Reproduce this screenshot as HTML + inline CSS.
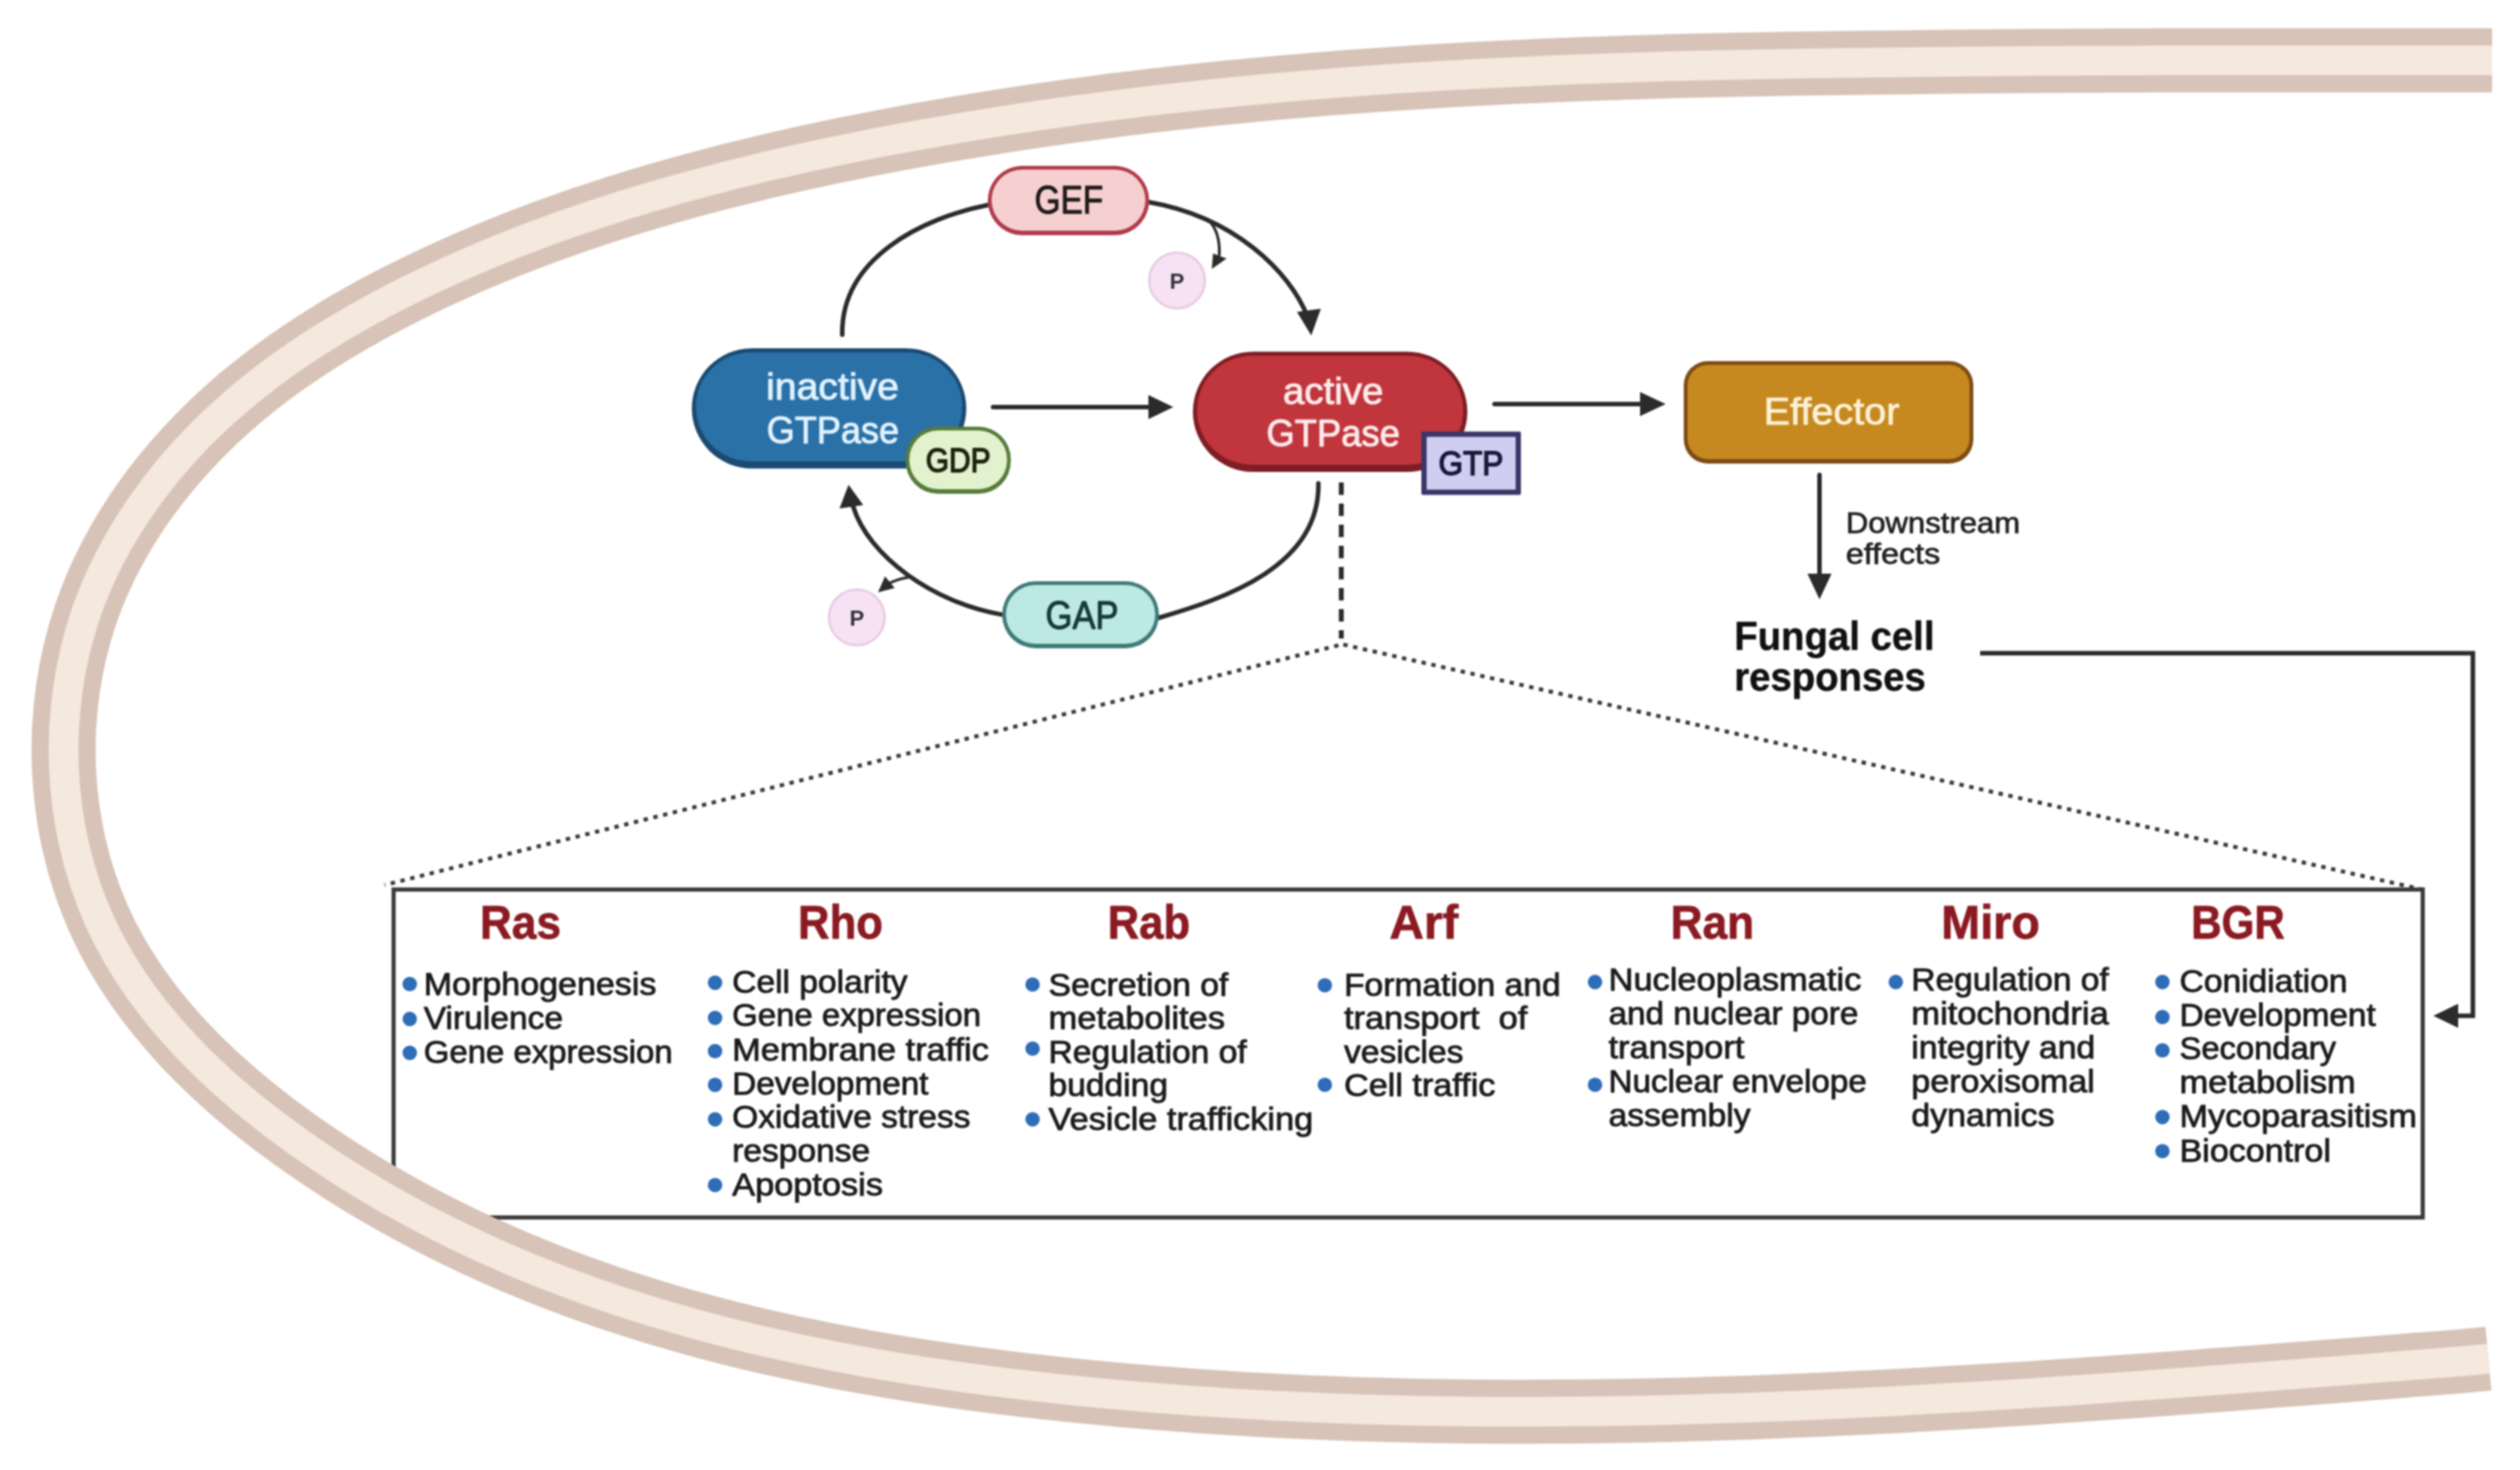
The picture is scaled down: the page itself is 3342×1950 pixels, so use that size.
<!DOCTYPE html>
<html><head><meta charset="utf-8"><title>Small GTPases in fungal cell</title>
<style>
html,body{margin:0;padding:0;background:#fff;}
body{width:3342px;height:1950px;overflow:hidden;}
svg{display:block;filter:blur(0.8px);}
text{font-family:"Liberation Sans",sans-serif;}
.b{font-weight:bold;}
.t{stroke:#1c1c1c;stroke-width:1.1px;stroke-linejoin:round;}
</style></head><body>
<svg width="3342" height="1950" viewBox="0 0 3342 1950">
<rect width="3342" height="1950" fill="#ffffff"/>

<path d="M3305.0,80.0 C3296.8,80.0 3272.5,80.0 3255.5,80.0 C3238.6,80.0 3220.6,80.0 3203.2,80.0 C3185.7,80.0 3168.3,80.0 3150.8,80.0 C3133.4,80.0 3115.9,80.0 3098.5,80.0 C3081.1,80.0 3063.6,80.0 3046.2,80.0 C3028.7,80.0 3011.3,80.0 2993.8,80.0 C2976.4,80.0 2958.9,80.0 2941.5,80.0 C2924.0,80.0 2906.6,80.0 2889.1,80.0 C2871.7,80.0 2854.2,80.1 2836.8,80.2 C2819.3,80.2 2801.9,80.3 2784.4,80.4 C2767.0,80.5 2749.5,80.6 2732.1,80.7 C2714.7,80.8 2697.2,80.9 2679.8,81.0 C2662.3,81.1 2644.9,81.3 2627.5,81.4 C2610.0,81.6 2592.6,81.8 2575.1,82.0 C2557.7,82.2 2540.3,82.5 2522.8,82.7 C2505.4,82.9 2488.0,83.1 2470.6,83.3 C2453.1,83.6 2435.7,83.7 2418.3,84.0 C2400.9,84.2 2383.4,84.5 2366.0,84.7 C2348.6,85.0 2331.2,85.3 2313.8,85.7 C2296.3,86.0 2278.9,86.4 2261.5,86.8 C2244.1,87.2 2226.7,87.6 2209.3,88.1 C2191.9,88.6 2174.5,89.1 2157.1,89.7 C2139.7,90.2 2122.3,90.8 2104.9,91.5 C2087.5,92.1 2070.1,92.8 2052.7,93.5 C2035.3,94.3 2017.9,95.0 2000.6,95.9 C1983.2,96.7 1965.8,97.6 1948.4,98.5 C1931.0,99.5 1913.7,100.4 1896.3,101.5 C1878.9,102.5 1861.6,103.6 1844.2,104.8 C1826.8,106.0 1809.5,107.2 1792.1,108.5 C1774.8,109.8 1757.4,111.1 1740.1,112.6 C1722.7,114.0 1705.4,115.5 1688.1,117.0 C1670.7,118.6 1653.4,120.2 1636.1,121.9 C1618.8,123.6 1601.4,125.4 1584.1,127.3 C1566.8,129.1 1549.5,131.0 1532.2,133.0 C1514.9,135.1 1497.6,137.2 1480.3,139.3 C1463.0,141.5 1445.7,143.8 1428.4,146.1 C1411.1,148.5 1393.8,150.9 1376.5,153.4 C1359.3,155.9 1342.0,158.6 1324.7,161.3 C1307.5,164.0 1290.2,166.8 1272.9,169.7 C1255.7,172.6 1238.4,175.6 1221.2,178.7 C1203.9,181.8 1186.7,184.9 1169.5,188.2 C1152.3,191.6 1135.0,195.0 1117.9,198.5 C1100.7,202.0 1083.5,205.7 1066.4,209.4 C1049.3,213.2 1032.2,217.1 1015.1,221.1 C998.1,225.2 981.1,229.3 964.1,233.6 C947.2,238.0 930.3,242.4 913.5,247.0 C896.7,251.6 879.9,256.4 863.3,261.3 C846.6,266.3 830.0,271.3 813.5,276.6 C797.0,281.9 780.6,287.3 764.3,292.9 C748.0,298.5 731.8,304.3 715.7,310.3 C699.6,316.3 683.6,322.5 667.7,328.9 C651.9,335.3 636.1,341.8 620.5,348.6 C604.9,355.4 589.4,362.4 574.1,369.6 C558.8,376.8 543.6,384.2 528.6,391.9 C513.5,399.6 498.6,407.4 484.0,415.6 C469.3,423.8 454.7,432.1 440.5,440.9 C426.2,449.6 412.1,458.6 398.3,467.9 C384.4,477.2 370.8,486.9 357.5,496.9 C344.2,506.9 331.2,517.3 318.4,528.1 C305.7,538.9 293.2,550.0 281.1,561.6 C269.0,573.2 257.2,585.3 245.8,597.7 C234.5,610.2 223.4,623.1 212.9,636.4 C202.4,649.8 192.2,663.5 182.7,677.6 C173.2,691.7 164.2,706.2 155.8,721.1 C147.5,735.9 139.7,751.2 132.7,766.7 C125.7,782.3 119.3,798.2 113.8,814.4 C108.3,830.6 103.5,847.2 99.5,864.0 C95.5,880.7 92.3,897.8 89.9,914.9 C87.5,932.0 85.9,949.3 85.0,966.6 C84.2,983.9 84.1,1001.3 84.8,1018.7 C85.5,1036.0 87.0,1053.3 89.3,1070.5 C91.6,1087.6 94.6,1104.7 98.5,1121.5 C102.3,1138.3 106.9,1155.0 112.4,1171.3 C117.8,1187.5 124.0,1203.6 130.9,1219.2 C137.9,1234.8 145.7,1250.0 154.2,1264.9 C162.6,1279.7 171.8,1294.2 181.6,1308.3 C191.4,1322.4 201.9,1336.1 212.8,1349.5 C223.8,1362.8 235.3,1375.8 247.3,1388.5 C259.3,1401.2 271.8,1413.5 284.6,1425.4 C297.4,1437.4 310.7,1449.0 324.3,1460.4 C337.8,1471.7 351.8,1482.6 365.8,1493.3 C379.9,1503.9 394.3,1514.3 408.8,1524.3 C423.3,1534.3 438.0,1544.1 452.8,1553.5 C467.5,1562.9 482.4,1572.0 497.4,1580.9 C512.4,1589.7 527.5,1598.2 542.7,1606.5 C557.9,1614.8 573.3,1622.8 588.7,1630.5 C604.1,1638.2 619.6,1645.7 635.2,1652.9 C650.8,1660.1 666.6,1667.0 682.3,1673.8 C698.1,1680.5 714.0,1686.9 730.0,1693.1 C746.0,1699.4 762.0,1705.4 778.1,1711.1 C794.3,1716.9 810.5,1722.4 826.7,1727.8 C843.0,1733.1 859.4,1738.2 875.8,1743.1 C892.2,1748.0 908.7,1752.7 925.2,1757.2 C941.7,1761.7 958.3,1766.1 975.0,1770.2 C991.6,1774.4 1008.3,1778.3 1025.1,1782.1 C1041.9,1785.9 1058.7,1789.5 1075.5,1792.9 C1092.3,1796.4 1109.2,1799.7 1126.2,1802.8 C1143.1,1806.0 1160.0,1809.0 1177.0,1811.8 C1194.0,1814.7 1211.0,1817.4 1228.1,1820.0 C1245.1,1822.6 1262.2,1825.0 1279.3,1827.4 C1296.4,1829.7 1313.5,1831.9 1330.6,1834.0 C1347.8,1836.1 1364.9,1838.1 1382.1,1840.0 C1399.2,1841.9 1416.4,1843.8 1433.5,1845.5 C1450.7,1847.2 1467.9,1848.8 1485.0,1850.4 C1502.2,1851.9 1519.4,1853.3 1536.6,1854.7 C1553.7,1856.1 1570.9,1857.4 1588.1,1858.5 C1605.3,1859.7 1622.5,1860.9 1639.7,1861.9 C1656.9,1862.9 1674.1,1863.9 1691.3,1864.7 C1708.6,1865.6 1725.8,1866.4 1743.0,1867.1 C1760.2,1867.9 1777.4,1868.5 1794.7,1869.1 C1811.9,1869.7 1829.1,1870.2 1846.4,1870.6 C1863.6,1871.0 1880.9,1871.4 1898.1,1871.7 C1915.4,1872.0 1932.6,1872.2 1949.9,1872.4 C1967.1,1872.5 1984.4,1872.6 2001.7,1872.7 C2018.9,1872.7 2036.2,1872.7 2053.5,1872.6 C2070.7,1872.5 2088.0,1872.4 2105.3,1872.2 C2122.6,1872.0 2139.9,1871.8 2157.1,1871.5 C2174.4,1871.2 2191.7,1870.8 2209.0,1870.4 C2226.3,1870.0 2243.6,1869.5 2260.9,1869.0 C2278.2,1868.5 2295.5,1868.0 2312.8,1867.4 C2330.1,1866.8 2347.4,1866.1 2364.7,1865.4 C2382.0,1864.7 2399.3,1864.0 2416.7,1863.2 C2434.0,1862.5 2451.3,1861.7 2468.6,1860.8 C2485.9,1860.0 2503.3,1859.1 2520.6,1858.2 C2537.9,1857.3 2555.2,1856.3 2572.6,1855.3 C2589.9,1854.4 2607.2,1853.3 2624.6,1852.3 C2641.9,1851.3 2659.2,1850.2 2676.6,1849.1 C2693.9,1848.0 2711.3,1846.9 2728.6,1845.7 C2745.9,1844.6 2763.3,1843.4 2780.6,1842.2 C2798.0,1841.0 2815.3,1839.8 2832.7,1838.6 C2850.0,1837.3 2867.3,1836.1 2884.7,1834.8 C2902.0,1833.6 2919.4,1832.3 2936.7,1831.0 C2954.1,1829.7 2971.5,1828.4 2988.8,1827.1 C3006.2,1825.8 3023.5,1824.5 3040.9,1823.1 C3058.2,1821.8 3075.6,1820.5 3092.9,1819.1 C3110.3,1817.8 3127.6,1816.4 3145.0,1815.1 C3162.4,1813.7 3179.7,1812.4 3197.1,1811.0 C3214.4,1809.7 3232.0,1808.5 3249.1,1807.0 C3266.3,1805.6 3291.6,1803.1 3300.1,1802.3" fill="none" stroke="#d7c3b7" stroke-width="85"/><path d="M3305.0,80.0 C3296.8,80.0 3272.5,80.0 3255.5,80.0 C3238.6,80.0 3220.6,80.0 3203.2,80.0 C3185.7,80.0 3168.3,80.0 3150.8,80.0 C3133.4,80.0 3115.9,80.0 3098.5,80.0 C3081.1,80.0 3063.6,80.0 3046.2,80.0 C3028.7,80.0 3011.3,80.0 2993.8,80.0 C2976.4,80.0 2958.9,80.0 2941.5,80.0 C2924.0,80.0 2906.6,80.0 2889.1,80.0 C2871.7,80.0 2854.2,80.1 2836.8,80.2 C2819.3,80.2 2801.9,80.3 2784.4,80.4 C2767.0,80.5 2749.5,80.6 2732.1,80.7 C2714.7,80.8 2697.2,80.9 2679.8,81.0 C2662.3,81.1 2644.9,81.3 2627.5,81.4 C2610.0,81.6 2592.6,81.8 2575.1,82.0 C2557.7,82.2 2540.3,82.5 2522.8,82.7 C2505.4,82.9 2488.0,83.1 2470.6,83.3 C2453.1,83.6 2435.7,83.7 2418.3,84.0 C2400.9,84.2 2383.4,84.5 2366.0,84.7 C2348.6,85.0 2331.2,85.3 2313.8,85.7 C2296.3,86.0 2278.9,86.4 2261.5,86.8 C2244.1,87.2 2226.7,87.6 2209.3,88.1 C2191.9,88.6 2174.5,89.1 2157.1,89.7 C2139.7,90.2 2122.3,90.8 2104.9,91.5 C2087.5,92.1 2070.1,92.8 2052.7,93.5 C2035.3,94.3 2017.9,95.0 2000.6,95.9 C1983.2,96.7 1965.8,97.6 1948.4,98.5 C1931.0,99.5 1913.7,100.4 1896.3,101.5 C1878.9,102.5 1861.6,103.6 1844.2,104.8 C1826.8,106.0 1809.5,107.2 1792.1,108.5 C1774.8,109.8 1757.4,111.1 1740.1,112.6 C1722.7,114.0 1705.4,115.5 1688.1,117.0 C1670.7,118.6 1653.4,120.2 1636.1,121.9 C1618.8,123.6 1601.4,125.4 1584.1,127.3 C1566.8,129.1 1549.5,131.0 1532.2,133.0 C1514.9,135.1 1497.6,137.2 1480.3,139.3 C1463.0,141.5 1445.7,143.8 1428.4,146.1 C1411.1,148.5 1393.8,150.9 1376.5,153.4 C1359.3,155.9 1342.0,158.6 1324.7,161.3 C1307.5,164.0 1290.2,166.8 1272.9,169.7 C1255.7,172.6 1238.4,175.6 1221.2,178.7 C1203.9,181.8 1186.7,184.9 1169.5,188.2 C1152.3,191.6 1135.0,195.0 1117.9,198.5 C1100.7,202.0 1083.5,205.7 1066.4,209.4 C1049.3,213.2 1032.2,217.1 1015.1,221.1 C998.1,225.2 981.1,229.3 964.1,233.6 C947.2,238.0 930.3,242.4 913.5,247.0 C896.7,251.6 879.9,256.4 863.3,261.3 C846.6,266.3 830.0,271.3 813.5,276.6 C797.0,281.9 780.6,287.3 764.3,292.9 C748.0,298.5 731.8,304.3 715.7,310.3 C699.6,316.3 683.6,322.5 667.7,328.9 C651.9,335.3 636.1,341.8 620.5,348.6 C604.9,355.4 589.4,362.4 574.1,369.6 C558.8,376.8 543.6,384.2 528.6,391.9 C513.5,399.6 498.6,407.4 484.0,415.6 C469.3,423.8 454.7,432.1 440.5,440.9 C426.2,449.6 412.1,458.6 398.3,467.9 C384.4,477.2 370.8,486.9 357.5,496.9 C344.2,506.9 331.2,517.3 318.4,528.1 C305.7,538.9 293.2,550.0 281.1,561.6 C269.0,573.2 257.2,585.3 245.8,597.7 C234.5,610.2 223.4,623.1 212.9,636.4 C202.4,649.8 192.2,663.5 182.7,677.6 C173.2,691.7 164.2,706.2 155.8,721.1 C147.5,735.9 139.7,751.2 132.7,766.7 C125.7,782.3 119.3,798.2 113.8,814.4 C108.3,830.6 103.5,847.2 99.5,864.0 C95.5,880.7 92.3,897.8 89.9,914.9 C87.5,932.0 85.9,949.3 85.0,966.6 C84.2,983.9 84.1,1001.3 84.8,1018.7 C85.5,1036.0 87.0,1053.3 89.3,1070.5 C91.6,1087.6 94.6,1104.7 98.5,1121.5 C102.3,1138.3 106.9,1155.0 112.4,1171.3 C117.8,1187.5 124.0,1203.6 130.9,1219.2 C137.9,1234.8 145.7,1250.0 154.2,1264.9 C162.6,1279.7 171.8,1294.2 181.6,1308.3 C191.4,1322.4 201.9,1336.1 212.8,1349.5 C223.8,1362.8 235.3,1375.8 247.3,1388.5 C259.3,1401.2 271.8,1413.5 284.6,1425.4 C297.4,1437.4 310.7,1449.0 324.3,1460.4 C337.8,1471.7 351.8,1482.6 365.8,1493.3 C379.9,1503.9 394.3,1514.3 408.8,1524.3 C423.3,1534.3 438.0,1544.1 452.8,1553.5 C467.5,1562.9 482.4,1572.0 497.4,1580.9 C512.4,1589.7 527.5,1598.2 542.7,1606.5 C557.9,1614.8 573.3,1622.8 588.7,1630.5 C604.1,1638.2 619.6,1645.7 635.2,1652.9 C650.8,1660.1 666.6,1667.0 682.3,1673.8 C698.1,1680.5 714.0,1686.9 730.0,1693.1 C746.0,1699.4 762.0,1705.4 778.1,1711.1 C794.3,1716.9 810.5,1722.4 826.7,1727.8 C843.0,1733.1 859.4,1738.2 875.8,1743.1 C892.2,1748.0 908.7,1752.7 925.2,1757.2 C941.7,1761.7 958.3,1766.1 975.0,1770.2 C991.6,1774.4 1008.3,1778.3 1025.1,1782.1 C1041.9,1785.9 1058.7,1789.5 1075.5,1792.9 C1092.3,1796.4 1109.2,1799.7 1126.2,1802.8 C1143.1,1806.0 1160.0,1809.0 1177.0,1811.8 C1194.0,1814.7 1211.0,1817.4 1228.1,1820.0 C1245.1,1822.6 1262.2,1825.0 1279.3,1827.4 C1296.4,1829.7 1313.5,1831.9 1330.6,1834.0 C1347.8,1836.1 1364.9,1838.1 1382.1,1840.0 C1399.2,1841.9 1416.4,1843.8 1433.5,1845.5 C1450.7,1847.2 1467.9,1848.8 1485.0,1850.4 C1502.2,1851.9 1519.4,1853.3 1536.6,1854.7 C1553.7,1856.1 1570.9,1857.4 1588.1,1858.5 C1605.3,1859.7 1622.5,1860.9 1639.7,1861.9 C1656.9,1862.9 1674.1,1863.9 1691.3,1864.7 C1708.6,1865.6 1725.8,1866.4 1743.0,1867.1 C1760.2,1867.9 1777.4,1868.5 1794.7,1869.1 C1811.9,1869.7 1829.1,1870.2 1846.4,1870.6 C1863.6,1871.0 1880.9,1871.4 1898.1,1871.7 C1915.4,1872.0 1932.6,1872.2 1949.9,1872.4 C1967.1,1872.5 1984.4,1872.6 2001.7,1872.7 C2018.9,1872.7 2036.2,1872.7 2053.5,1872.6 C2070.7,1872.5 2088.0,1872.4 2105.3,1872.2 C2122.6,1872.0 2139.9,1871.8 2157.1,1871.5 C2174.4,1871.2 2191.7,1870.8 2209.0,1870.4 C2226.3,1870.0 2243.6,1869.5 2260.9,1869.0 C2278.2,1868.5 2295.5,1868.0 2312.8,1867.4 C2330.1,1866.8 2347.4,1866.1 2364.7,1865.4 C2382.0,1864.7 2399.3,1864.0 2416.7,1863.2 C2434.0,1862.5 2451.3,1861.7 2468.6,1860.8 C2485.9,1860.0 2503.3,1859.1 2520.6,1858.2 C2537.9,1857.3 2555.2,1856.3 2572.6,1855.3 C2589.9,1854.4 2607.2,1853.3 2624.6,1852.3 C2641.9,1851.3 2659.2,1850.2 2676.6,1849.1 C2693.9,1848.0 2711.3,1846.9 2728.6,1845.7 C2745.9,1844.6 2763.3,1843.4 2780.6,1842.2 C2798.0,1841.0 2815.3,1839.8 2832.7,1838.6 C2850.0,1837.3 2867.3,1836.1 2884.7,1834.8 C2902.0,1833.6 2919.4,1832.3 2936.7,1831.0 C2954.1,1829.7 2971.5,1828.4 2988.8,1827.1 C3006.2,1825.8 3023.5,1824.5 3040.9,1823.1 C3058.2,1821.8 3075.6,1820.5 3092.9,1819.1 C3110.3,1817.8 3127.6,1816.4 3145.0,1815.1 C3162.4,1813.7 3179.7,1812.4 3197.1,1811.0 C3214.4,1809.7 3232.0,1808.5 3249.1,1807.0 C3266.3,1805.6 3291.6,1803.1 3300.1,1802.3" fill="none" stroke="#f5e8de" stroke-width="39.5"/>
<g fill="none" stroke="#2b2b2b" stroke-width="6" stroke-linecap="round">
<path d="M1117,444 C1115,342 1224.2,288.8 1310,272"/>
<path d="M1523,268 C1637.4,287.9 1710.5,360.4 1734,420"/>
<path d="M1748.4,641.3 C1750.8,751.2 1624.7,793.9 1537,819.5"/>
<path d="M1330.2,815.6 C1237,799.9 1151.4,737.1 1131.5,672"/>
<path d="M1317,540 H1530"/>
<path d="M1982,536 H2180"/>
<path d="M2413,630 V770"/>
</g>
<g fill="none" stroke="#2b2b2b" stroke-width="3.8" stroke-linecap="round">
<path d="M1602,291 C1614,303 1618,318 1617,338"/>
<path d="M1204,766 C1192,768 1184,771 1177,775"/>
</g>
<g fill="#2b2b2b">
<polygon points="1739,445 1720,413.7 1751.7,409.4"/>
<polygon points="1125.3,643 1113.4,674.4 1144.8,670"/>
<polygon points="1556,540 1523,524 1523,556"/>
<polygon points="2209,536 2175,520 2175,552"/>
<polygon points="2413,795 2397,761 2429,761"/>
<polygon points="3227,1347.5 3260,1331.5 3260,1363.5"/>
<polygon points="1607,356.7 1608.8,336.3 1626.7,343"/>
<polygon points="1164.4,785.8 1173.7,764.6 1186.5,779.9"/>
</g>
<path d="M2626,866.5 H3279.5 V1347.5 H3255" fill="none" stroke="#2b2b2b" stroke-width="6" stroke-linejoin="miter"/>
<path d="M1778.8,640 V847" fill="none" stroke="#2b2b2b" stroke-width="6.5" stroke-dasharray="16.5 11.5"/>
<path d="M1775,856 L510,1174" fill="none" stroke="#3a3a3a" stroke-width="5.2" stroke-dasharray="5.8 7.5"/>
<path d="M1781.5,855 L3217,1181" fill="none" stroke="#3a3a3a" stroke-width="5.2" stroke-dasharray="5.8 7.5"/>
<rect x="917.5" y="462.0" width="364.0" height="159.5" rx="79.8" fill="#1b4a72"/>
<rect x="923.0" y="467.5" width="353.0" height="144.5" rx="72.2" fill="#2a71a7"/>
<rect x="1582.0" y="466.5" width="364.0" height="159.5" rx="79.8" fill="#7f1d24"/>
<rect x="1587.5" y="472.0" width="353.0" height="144.5" rx="72.2" fill="#c1353d"/>
<rect x="1310.0" y="220.0" width="214.0" height="92.0" rx="46.0" fill="#b03b4b"/>
<rect x="1315.0" y="225.0" width="204.0" height="81.0" rx="40.5" fill="#f6d0d0"/>
<rect x="1329.0" y="771.0" width="208.0" height="89.0" rx="44.5" fill="#3f7b79"/>
<rect x="1334.0" y="776.0" width="198.0" height="78.0" rx="39.0" fill="#bce9e4"/>
<rect x="1201.0" y="566.0" width="139.5" height="89.0" rx="43.0" fill="#587c3b"/>
<rect x="1206.0" y="571.0" width="129.5" height="78.0" rx="38.0" fill="#e2f2cf"/>
<rect x="1885.0" y="572.5" width="132.0" height="84.0" rx="2.0" fill="#3b3569"/>
<rect x="1892.0" y="579.5" width="118.0" height="70.0" rx="0.5" fill="#cfcdf0"/>
<rect x="2233.0" y="479.0" width="384.0" height="136.0" rx="32.0" fill="#7e4b15"/>
<rect x="2238.0" y="484.0" width="374.0" height="125.0" rx="27.0" fill="#c6891f"/>
<circle cx="1561" cy="372" r="37" fill="#f6e2f4" stroke="#e7cae3" stroke-width="3"/>
<text x="1561.0" y="383.0" font-size="29" fill="#33303a" class="b" text-anchor="middle">P</text>
<circle cx="1136.3" cy="819" r="37" fill="#f6e2f4" stroke="#e7cae3" stroke-width="3"/>
<text x="1136.3" y="830.0" font-size="29" fill="#33303a" class="b" text-anchor="middle">P</text>
<text x="1016.0" y="530.4" font-size="50" fill="#e1f2fd" stroke="#e1f2fd" stroke-width="1.2" stroke-linejoin="round" textLength="176.0" lengthAdjust="spacingAndGlyphs" text-anchor="start">inactive</text>
<text x="1016.8" y="588.0" font-size="50" fill="#e1f2fd" stroke="#e1f2fd" stroke-width="1.2" stroke-linejoin="round" textLength="175.5" lengthAdjust="spacingAndGlyphs" text-anchor="start">GTPase</text>
<text x="1701.4" y="535.8" font-size="50" fill="#fdebeb" stroke="#fdebeb" stroke-width="1.2" stroke-linejoin="round" textLength="133.3" lengthAdjust="spacingAndGlyphs" text-anchor="start">active</text>
<text x="1679.5" y="592.4" font-size="50" fill="#fdebeb" stroke="#fdebeb" stroke-width="1.2" stroke-linejoin="round" textLength="177.0" lengthAdjust="spacingAndGlyphs" text-anchor="start">GTPase</text>
<text x="1372.0" y="282.7" font-size="51" fill="#1f1a1a" stroke="#1f1a1a" stroke-width="1.3" stroke-linejoin="round" textLength="91.0" lengthAdjust="spacingAndGlyphs" text-anchor="start">GEF</text>
<text x="1386.5" y="833.5" font-size="52" fill="#163838" stroke="#163838" stroke-width="1.3" stroke-linejoin="round" textLength="97.0" lengthAdjust="spacingAndGlyphs" text-anchor="start">GAP</text>
<text x="1227.7" y="626.2" font-size="45" fill="#1c2410" stroke="#1c2410" stroke-width="1.8" stroke-linejoin="round" textLength="86.0" lengthAdjust="spacingAndGlyphs" text-anchor="start">GDP</text>
<text x="1907.7" y="629.8" font-size="45" fill="#1a1838" stroke="#1a1838" stroke-width="1.8" stroke-linejoin="round" textLength="86.0" lengthAdjust="spacingAndGlyphs" text-anchor="start">GTP</text>
<text x="2339.0" y="563.0" font-size="50" fill="#fdf1d8" stroke="#fdf1d8" stroke-width="1.0" stroke-linejoin="round" textLength="180.0" lengthAdjust="spacingAndGlyphs" text-anchor="start">Effector</text>
<text x="2448.0" y="707.0" font-size="38" fill="#222" stroke="#222" stroke-width="0.9" stroke-linejoin="round" textLength="231.0" lengthAdjust="spacingAndGlyphs" text-anchor="start">Downstream</text>
<text x="2448.0" y="747.5" font-size="38" fill="#222" stroke="#222" stroke-width="0.9" stroke-linejoin="round" textLength="125.0" lengthAdjust="spacingAndGlyphs" text-anchor="start">effects</text>
<text x="2300.0" y="862.0" font-size="53" fill="#111" stroke="#111" stroke-width="0.6" stroke-linejoin="round" class="b" textLength="265.5" lengthAdjust="spacingAndGlyphs" text-anchor="start">Fungal cell</text>
<text x="2300.0" y="915.5" font-size="53" fill="#111" stroke="#111" stroke-width="0.6" stroke-linejoin="round" class="b" textLength="254.0" lengthAdjust="spacingAndGlyphs" text-anchor="start">responses</text>
<rect x="522" y="1180" width="2691" height="435" fill="none" stroke="#3a3a3a" stroke-width="5.5"/>
<clipPath id="cl"><rect x="0" y="1400" width="1150" height="550"/></clipPath>
<g clip-path="url(#cl)"><path d="M3305.0,80.0 C3296.8,80.0 3272.5,80.0 3255.5,80.0 C3238.6,80.0 3220.6,80.0 3203.2,80.0 C3185.7,80.0 3168.3,80.0 3150.8,80.0 C3133.4,80.0 3115.9,80.0 3098.5,80.0 C3081.1,80.0 3063.6,80.0 3046.2,80.0 C3028.7,80.0 3011.3,80.0 2993.8,80.0 C2976.4,80.0 2958.9,80.0 2941.5,80.0 C2924.0,80.0 2906.6,80.0 2889.1,80.0 C2871.7,80.0 2854.2,80.1 2836.8,80.2 C2819.3,80.2 2801.9,80.3 2784.4,80.4 C2767.0,80.5 2749.5,80.6 2732.1,80.7 C2714.7,80.8 2697.2,80.9 2679.8,81.0 C2662.3,81.1 2644.9,81.3 2627.5,81.4 C2610.0,81.6 2592.6,81.8 2575.1,82.0 C2557.7,82.2 2540.3,82.5 2522.8,82.7 C2505.4,82.9 2488.0,83.1 2470.6,83.3 C2453.1,83.6 2435.7,83.7 2418.3,84.0 C2400.9,84.2 2383.4,84.5 2366.0,84.7 C2348.6,85.0 2331.2,85.3 2313.8,85.7 C2296.3,86.0 2278.9,86.4 2261.5,86.8 C2244.1,87.2 2226.7,87.6 2209.3,88.1 C2191.9,88.6 2174.5,89.1 2157.1,89.7 C2139.7,90.2 2122.3,90.8 2104.9,91.5 C2087.5,92.1 2070.1,92.8 2052.7,93.5 C2035.3,94.3 2017.9,95.0 2000.6,95.9 C1983.2,96.7 1965.8,97.6 1948.4,98.5 C1931.0,99.5 1913.7,100.4 1896.3,101.5 C1878.9,102.5 1861.6,103.6 1844.2,104.8 C1826.8,106.0 1809.5,107.2 1792.1,108.5 C1774.8,109.8 1757.4,111.1 1740.1,112.6 C1722.7,114.0 1705.4,115.5 1688.1,117.0 C1670.7,118.6 1653.4,120.2 1636.1,121.9 C1618.8,123.6 1601.4,125.4 1584.1,127.3 C1566.8,129.1 1549.5,131.0 1532.2,133.0 C1514.9,135.1 1497.6,137.2 1480.3,139.3 C1463.0,141.5 1445.7,143.8 1428.4,146.1 C1411.1,148.5 1393.8,150.9 1376.5,153.4 C1359.3,155.9 1342.0,158.6 1324.7,161.3 C1307.5,164.0 1290.2,166.8 1272.9,169.7 C1255.7,172.6 1238.4,175.6 1221.2,178.7 C1203.9,181.8 1186.7,184.9 1169.5,188.2 C1152.3,191.6 1135.0,195.0 1117.9,198.5 C1100.7,202.0 1083.5,205.7 1066.4,209.4 C1049.3,213.2 1032.2,217.1 1015.1,221.1 C998.1,225.2 981.1,229.3 964.1,233.6 C947.2,238.0 930.3,242.4 913.5,247.0 C896.7,251.6 879.9,256.4 863.3,261.3 C846.6,266.3 830.0,271.3 813.5,276.6 C797.0,281.9 780.6,287.3 764.3,292.9 C748.0,298.5 731.8,304.3 715.7,310.3 C699.6,316.3 683.6,322.5 667.7,328.9 C651.9,335.3 636.1,341.8 620.5,348.6 C604.9,355.4 589.4,362.4 574.1,369.6 C558.8,376.8 543.6,384.2 528.6,391.9 C513.5,399.6 498.6,407.4 484.0,415.6 C469.3,423.8 454.7,432.1 440.5,440.9 C426.2,449.6 412.1,458.6 398.3,467.9 C384.4,477.2 370.8,486.9 357.5,496.9 C344.2,506.9 331.2,517.3 318.4,528.1 C305.7,538.9 293.2,550.0 281.1,561.6 C269.0,573.2 257.2,585.3 245.8,597.7 C234.5,610.2 223.4,623.1 212.9,636.4 C202.4,649.8 192.2,663.5 182.7,677.6 C173.2,691.7 164.2,706.2 155.8,721.1 C147.5,735.9 139.7,751.2 132.7,766.7 C125.7,782.3 119.3,798.2 113.8,814.4 C108.3,830.6 103.5,847.2 99.5,864.0 C95.5,880.7 92.3,897.8 89.9,914.9 C87.5,932.0 85.9,949.3 85.0,966.6 C84.2,983.9 84.1,1001.3 84.8,1018.7 C85.5,1036.0 87.0,1053.3 89.3,1070.5 C91.6,1087.6 94.6,1104.7 98.5,1121.5 C102.3,1138.3 106.9,1155.0 112.4,1171.3 C117.8,1187.5 124.0,1203.6 130.9,1219.2 C137.9,1234.8 145.7,1250.0 154.2,1264.9 C162.6,1279.7 171.8,1294.2 181.6,1308.3 C191.4,1322.4 201.9,1336.1 212.8,1349.5 C223.8,1362.8 235.3,1375.8 247.3,1388.5 C259.3,1401.2 271.8,1413.5 284.6,1425.4 C297.4,1437.4 310.7,1449.0 324.3,1460.4 C337.8,1471.7 351.8,1482.6 365.8,1493.3 C379.9,1503.9 394.3,1514.3 408.8,1524.3 C423.3,1534.3 438.0,1544.1 452.8,1553.5 C467.5,1562.9 482.4,1572.0 497.4,1580.9 C512.4,1589.7 527.5,1598.2 542.7,1606.5 C557.9,1614.8 573.3,1622.8 588.7,1630.5 C604.1,1638.2 619.6,1645.7 635.2,1652.9 C650.8,1660.1 666.6,1667.0 682.3,1673.8 C698.1,1680.5 714.0,1686.9 730.0,1693.1 C746.0,1699.4 762.0,1705.4 778.1,1711.1 C794.3,1716.9 810.5,1722.4 826.7,1727.8 C843.0,1733.1 859.4,1738.2 875.8,1743.1 C892.2,1748.0 908.7,1752.7 925.2,1757.2 C941.7,1761.7 958.3,1766.1 975.0,1770.2 C991.6,1774.4 1008.3,1778.3 1025.1,1782.1 C1041.9,1785.9 1058.7,1789.5 1075.5,1792.9 C1092.3,1796.4 1109.2,1799.7 1126.2,1802.8 C1143.1,1806.0 1160.0,1809.0 1177.0,1811.8 C1194.0,1814.7 1211.0,1817.4 1228.1,1820.0 C1245.1,1822.6 1262.2,1825.0 1279.3,1827.4 C1296.4,1829.7 1313.5,1831.9 1330.6,1834.0 C1347.8,1836.1 1364.9,1838.1 1382.1,1840.0 C1399.2,1841.9 1416.4,1843.8 1433.5,1845.5 C1450.7,1847.2 1467.9,1848.8 1485.0,1850.4 C1502.2,1851.9 1519.4,1853.3 1536.6,1854.7 C1553.7,1856.1 1570.9,1857.4 1588.1,1858.5 C1605.3,1859.7 1622.5,1860.9 1639.7,1861.9 C1656.9,1862.9 1674.1,1863.9 1691.3,1864.7 C1708.6,1865.6 1725.8,1866.4 1743.0,1867.1 C1760.2,1867.9 1777.4,1868.5 1794.7,1869.1 C1811.9,1869.7 1829.1,1870.2 1846.4,1870.6 C1863.6,1871.0 1880.9,1871.4 1898.1,1871.7 C1915.4,1872.0 1932.6,1872.2 1949.9,1872.4 C1967.1,1872.5 1984.4,1872.6 2001.7,1872.7 C2018.9,1872.7 2036.2,1872.7 2053.5,1872.6 C2070.7,1872.5 2088.0,1872.4 2105.3,1872.2 C2122.6,1872.0 2139.9,1871.8 2157.1,1871.5 C2174.4,1871.2 2191.7,1870.8 2209.0,1870.4 C2226.3,1870.0 2243.6,1869.5 2260.9,1869.0 C2278.2,1868.5 2295.5,1868.0 2312.8,1867.4 C2330.1,1866.8 2347.4,1866.1 2364.7,1865.4 C2382.0,1864.7 2399.3,1864.0 2416.7,1863.2 C2434.0,1862.5 2451.3,1861.7 2468.6,1860.8 C2485.9,1860.0 2503.3,1859.1 2520.6,1858.2 C2537.9,1857.3 2555.2,1856.3 2572.6,1855.3 C2589.9,1854.4 2607.2,1853.3 2624.6,1852.3 C2641.9,1851.3 2659.2,1850.2 2676.6,1849.1 C2693.9,1848.0 2711.3,1846.9 2728.6,1845.7 C2745.9,1844.6 2763.3,1843.4 2780.6,1842.2 C2798.0,1841.0 2815.3,1839.8 2832.7,1838.6 C2850.0,1837.3 2867.3,1836.1 2884.7,1834.8 C2902.0,1833.6 2919.4,1832.3 2936.7,1831.0 C2954.1,1829.7 2971.5,1828.4 2988.8,1827.1 C3006.2,1825.8 3023.5,1824.5 3040.9,1823.1 C3058.2,1821.8 3075.6,1820.5 3092.9,1819.1 C3110.3,1817.8 3127.6,1816.4 3145.0,1815.1 C3162.4,1813.7 3179.7,1812.4 3197.1,1811.0 C3214.4,1809.7 3232.0,1808.5 3249.1,1807.0 C3266.3,1805.6 3291.6,1803.1 3300.1,1802.3" fill="none" stroke="#d7c3b7" stroke-width="85"/><path d="M3305.0,80.0 C3296.8,80.0 3272.5,80.0 3255.5,80.0 C3238.6,80.0 3220.6,80.0 3203.2,80.0 C3185.7,80.0 3168.3,80.0 3150.8,80.0 C3133.4,80.0 3115.9,80.0 3098.5,80.0 C3081.1,80.0 3063.6,80.0 3046.2,80.0 C3028.7,80.0 3011.3,80.0 2993.8,80.0 C2976.4,80.0 2958.9,80.0 2941.5,80.0 C2924.0,80.0 2906.6,80.0 2889.1,80.0 C2871.7,80.0 2854.2,80.1 2836.8,80.2 C2819.3,80.2 2801.9,80.3 2784.4,80.4 C2767.0,80.5 2749.5,80.6 2732.1,80.7 C2714.7,80.8 2697.2,80.9 2679.8,81.0 C2662.3,81.1 2644.9,81.3 2627.5,81.4 C2610.0,81.6 2592.6,81.8 2575.1,82.0 C2557.7,82.2 2540.3,82.5 2522.8,82.7 C2505.4,82.9 2488.0,83.1 2470.6,83.3 C2453.1,83.6 2435.7,83.7 2418.3,84.0 C2400.9,84.2 2383.4,84.5 2366.0,84.7 C2348.6,85.0 2331.2,85.3 2313.8,85.7 C2296.3,86.0 2278.9,86.4 2261.5,86.8 C2244.1,87.2 2226.7,87.6 2209.3,88.1 C2191.9,88.6 2174.5,89.1 2157.1,89.7 C2139.7,90.2 2122.3,90.8 2104.9,91.5 C2087.5,92.1 2070.1,92.8 2052.7,93.5 C2035.3,94.3 2017.9,95.0 2000.6,95.9 C1983.2,96.7 1965.8,97.6 1948.4,98.5 C1931.0,99.5 1913.7,100.4 1896.3,101.5 C1878.9,102.5 1861.6,103.6 1844.2,104.8 C1826.8,106.0 1809.5,107.2 1792.1,108.5 C1774.8,109.8 1757.4,111.1 1740.1,112.6 C1722.7,114.0 1705.4,115.5 1688.1,117.0 C1670.7,118.6 1653.4,120.2 1636.1,121.9 C1618.8,123.6 1601.4,125.4 1584.1,127.3 C1566.8,129.1 1549.5,131.0 1532.2,133.0 C1514.9,135.1 1497.6,137.2 1480.3,139.3 C1463.0,141.5 1445.7,143.8 1428.4,146.1 C1411.1,148.5 1393.8,150.9 1376.5,153.4 C1359.3,155.9 1342.0,158.6 1324.7,161.3 C1307.5,164.0 1290.2,166.8 1272.9,169.7 C1255.7,172.6 1238.4,175.6 1221.2,178.7 C1203.9,181.8 1186.7,184.9 1169.5,188.2 C1152.3,191.6 1135.0,195.0 1117.9,198.5 C1100.7,202.0 1083.5,205.7 1066.4,209.4 C1049.3,213.2 1032.2,217.1 1015.1,221.1 C998.1,225.2 981.1,229.3 964.1,233.6 C947.2,238.0 930.3,242.4 913.5,247.0 C896.7,251.6 879.9,256.4 863.3,261.3 C846.6,266.3 830.0,271.3 813.5,276.6 C797.0,281.9 780.6,287.3 764.3,292.9 C748.0,298.5 731.8,304.3 715.7,310.3 C699.6,316.3 683.6,322.5 667.7,328.9 C651.9,335.3 636.1,341.8 620.5,348.6 C604.9,355.4 589.4,362.4 574.1,369.6 C558.8,376.8 543.6,384.2 528.6,391.9 C513.5,399.6 498.6,407.4 484.0,415.6 C469.3,423.8 454.7,432.1 440.5,440.9 C426.2,449.6 412.1,458.6 398.3,467.9 C384.4,477.2 370.8,486.9 357.5,496.9 C344.2,506.9 331.2,517.3 318.4,528.1 C305.7,538.9 293.2,550.0 281.1,561.6 C269.0,573.2 257.2,585.3 245.8,597.7 C234.5,610.2 223.4,623.1 212.9,636.4 C202.4,649.8 192.2,663.5 182.7,677.6 C173.2,691.7 164.2,706.2 155.8,721.1 C147.5,735.9 139.7,751.2 132.7,766.7 C125.7,782.3 119.3,798.2 113.8,814.4 C108.3,830.6 103.5,847.2 99.5,864.0 C95.5,880.7 92.3,897.8 89.9,914.9 C87.5,932.0 85.9,949.3 85.0,966.6 C84.2,983.9 84.1,1001.3 84.8,1018.7 C85.5,1036.0 87.0,1053.3 89.3,1070.5 C91.6,1087.6 94.6,1104.7 98.5,1121.5 C102.3,1138.3 106.9,1155.0 112.4,1171.3 C117.8,1187.5 124.0,1203.6 130.9,1219.2 C137.9,1234.8 145.7,1250.0 154.2,1264.9 C162.6,1279.7 171.8,1294.2 181.6,1308.3 C191.4,1322.4 201.9,1336.1 212.8,1349.5 C223.8,1362.8 235.3,1375.8 247.3,1388.5 C259.3,1401.2 271.8,1413.5 284.6,1425.4 C297.4,1437.4 310.7,1449.0 324.3,1460.4 C337.8,1471.7 351.8,1482.6 365.8,1493.3 C379.9,1503.9 394.3,1514.3 408.8,1524.3 C423.3,1534.3 438.0,1544.1 452.8,1553.5 C467.5,1562.9 482.4,1572.0 497.4,1580.9 C512.4,1589.7 527.5,1598.2 542.7,1606.5 C557.9,1614.8 573.3,1622.8 588.7,1630.5 C604.1,1638.2 619.6,1645.7 635.2,1652.9 C650.8,1660.1 666.6,1667.0 682.3,1673.8 C698.1,1680.5 714.0,1686.9 730.0,1693.1 C746.0,1699.4 762.0,1705.4 778.1,1711.1 C794.3,1716.9 810.5,1722.4 826.7,1727.8 C843.0,1733.1 859.4,1738.2 875.8,1743.1 C892.2,1748.0 908.7,1752.7 925.2,1757.2 C941.7,1761.7 958.3,1766.1 975.0,1770.2 C991.6,1774.4 1008.3,1778.3 1025.1,1782.1 C1041.9,1785.9 1058.7,1789.5 1075.5,1792.9 C1092.3,1796.4 1109.2,1799.7 1126.2,1802.8 C1143.1,1806.0 1160.0,1809.0 1177.0,1811.8 C1194.0,1814.7 1211.0,1817.4 1228.1,1820.0 C1245.1,1822.6 1262.2,1825.0 1279.3,1827.4 C1296.4,1829.7 1313.5,1831.9 1330.6,1834.0 C1347.8,1836.1 1364.9,1838.1 1382.1,1840.0 C1399.2,1841.9 1416.4,1843.8 1433.5,1845.5 C1450.7,1847.2 1467.9,1848.8 1485.0,1850.4 C1502.2,1851.9 1519.4,1853.3 1536.6,1854.7 C1553.7,1856.1 1570.9,1857.4 1588.1,1858.5 C1605.3,1859.7 1622.5,1860.9 1639.7,1861.9 C1656.9,1862.9 1674.1,1863.9 1691.3,1864.7 C1708.6,1865.6 1725.8,1866.4 1743.0,1867.1 C1760.2,1867.9 1777.4,1868.5 1794.7,1869.1 C1811.9,1869.7 1829.1,1870.2 1846.4,1870.6 C1863.6,1871.0 1880.9,1871.4 1898.1,1871.7 C1915.4,1872.0 1932.6,1872.2 1949.9,1872.4 C1967.1,1872.5 1984.4,1872.6 2001.7,1872.7 C2018.9,1872.7 2036.2,1872.7 2053.5,1872.6 C2070.7,1872.5 2088.0,1872.4 2105.3,1872.2 C2122.6,1872.0 2139.9,1871.8 2157.1,1871.5 C2174.4,1871.2 2191.7,1870.8 2209.0,1870.4 C2226.3,1870.0 2243.6,1869.5 2260.9,1869.0 C2278.2,1868.5 2295.5,1868.0 2312.8,1867.4 C2330.1,1866.8 2347.4,1866.1 2364.7,1865.4 C2382.0,1864.7 2399.3,1864.0 2416.7,1863.2 C2434.0,1862.5 2451.3,1861.7 2468.6,1860.8 C2485.9,1860.0 2503.3,1859.1 2520.6,1858.2 C2537.9,1857.3 2555.2,1856.3 2572.6,1855.3 C2589.9,1854.4 2607.2,1853.3 2624.6,1852.3 C2641.9,1851.3 2659.2,1850.2 2676.6,1849.1 C2693.9,1848.0 2711.3,1846.9 2728.6,1845.7 C2745.9,1844.6 2763.3,1843.4 2780.6,1842.2 C2798.0,1841.0 2815.3,1839.8 2832.7,1838.6 C2850.0,1837.3 2867.3,1836.1 2884.7,1834.8 C2902.0,1833.6 2919.4,1832.3 2936.7,1831.0 C2954.1,1829.7 2971.5,1828.4 2988.8,1827.1 C3006.2,1825.8 3023.5,1824.5 3040.9,1823.1 C3058.2,1821.8 3075.6,1820.5 3092.9,1819.1 C3110.3,1817.8 3127.6,1816.4 3145.0,1815.1 C3162.4,1813.7 3179.7,1812.4 3197.1,1811.0 C3214.4,1809.7 3232.0,1808.5 3249.1,1807.0 C3266.3,1805.6 3291.6,1803.1 3300.1,1802.3" fill="none" stroke="#f5e8de" stroke-width="39.5"/></g>
<text x="636.5" y="1244.5" font-size="63" fill="#8b1a22" stroke="#8b1a22" stroke-width="0.9" stroke-linejoin="round" class="b" textLength="107.5" lengthAdjust="spacingAndGlyphs" text-anchor="start">Ras</text>
<text x="1058.3" y="1244.5" font-size="63" fill="#8b1a22" stroke="#8b1a22" stroke-width="0.9" stroke-linejoin="round" class="b" textLength="112.7" lengthAdjust="spacingAndGlyphs" text-anchor="start">Rho</text>
<text x="1469.0" y="1244.5" font-size="63" fill="#8b1a22" stroke="#8b1a22" stroke-width="0.9" stroke-linejoin="round" class="b" textLength="109.3" lengthAdjust="spacingAndGlyphs" text-anchor="start">Rab</text>
<text x="1842.8" y="1244.5" font-size="63" fill="#8b1a22" stroke="#8b1a22" stroke-width="0.9" stroke-linejoin="round" class="b" textLength="91.2" lengthAdjust="spacingAndGlyphs" text-anchor="start">Arf</text>
<text x="2215.5" y="1244.5" font-size="63" fill="#8b1a22" stroke="#8b1a22" stroke-width="0.9" stroke-linejoin="round" class="b" textLength="111.0" lengthAdjust="spacingAndGlyphs" text-anchor="start">Ran</text>
<text x="2574.6" y="1244.5" font-size="63" fill="#8b1a22" stroke="#8b1a22" stroke-width="0.9" stroke-linejoin="round" class="b" textLength="130.6" lengthAdjust="spacingAndGlyphs" text-anchor="start">Miro</text>
<text x="2905.9" y="1244.5" font-size="63" fill="#8b1a22" stroke="#8b1a22" stroke-width="0.9" stroke-linejoin="round" class="b" textLength="124.1" lengthAdjust="spacingAndGlyphs" text-anchor="start">BGR</text>
<text class="t" x="562.0" y="1320.4" font-size="43" fill="#1c1c1c" textLength="308.5" lengthAdjust="spacingAndGlyphs" xml:space="preserve">Morphogenesis</text>
<circle cx="543.4" cy="1305.4" r="9.6" fill="#2e6db8"/>
<text class="t" x="562.0" y="1365.3" font-size="43" fill="#1c1c1c" textLength="184.7" lengthAdjust="spacingAndGlyphs" xml:space="preserve">Virulence</text>
<circle cx="543.4" cy="1351.7" r="9.6" fill="#2e6db8"/>
<text class="t" x="562.0" y="1410.2" font-size="43" fill="#1c1c1c" textLength="330.0" lengthAdjust="spacingAndGlyphs" xml:space="preserve">Gene expression</text>
<circle cx="543.4" cy="1396.6" r="9.6" fill="#2e6db8"/>
<text class="t" x="971.0" y="1316.7" font-size="43" fill="#1c1c1c" textLength="232.6" lengthAdjust="spacingAndGlyphs" xml:space="preserve">Cell polarity</text>
<circle cx="948.3" cy="1303.6" r="9.6" fill="#2e6db8"/>
<text class="t" x="971.0" y="1361.4" font-size="43" fill="#1c1c1c" textLength="330.0" lengthAdjust="spacingAndGlyphs" xml:space="preserve">Gene expression</text>
<circle cx="948.3" cy="1350.3" r="9.6" fill="#2e6db8"/>
<text class="t" x="971.0" y="1406.5" font-size="43" fill="#1c1c1c" textLength="340.4" lengthAdjust="spacingAndGlyphs" xml:space="preserve">Membrane traffic</text>
<circle cx="948.3" cy="1394.4" r="9.6" fill="#2e6db8"/>
<text class="t" x="971.0" y="1451.5" font-size="43" fill="#1c1c1c" textLength="260.4" lengthAdjust="spacingAndGlyphs" xml:space="preserve">Development</text>
<circle cx="948.3" cy="1439.1" r="9.6" fill="#2e6db8"/>
<text class="t" x="971.0" y="1496.3" font-size="43" fill="#1c1c1c" textLength="315.9" lengthAdjust="spacingAndGlyphs" xml:space="preserve">Oxidative stress</text>
<circle cx="948.3" cy="1484.8" r="9.6" fill="#2e6db8"/>
<text class="t" x="971.0" y="1541.3" font-size="43" fill="#1c1c1c" textLength="183.0" lengthAdjust="spacingAndGlyphs" xml:space="preserve">response</text>
<text class="t" x="971.0" y="1586.0" font-size="43" fill="#1c1c1c" textLength="200.0" lengthAdjust="spacingAndGlyphs" xml:space="preserve">Apoptosis</text>
<circle cx="948.3" cy="1572.0" r="9.6" fill="#2e6db8"/>
<text class="t" x="1390.6" y="1320.6" font-size="43" fill="#1c1c1c" textLength="238.4" lengthAdjust="spacingAndGlyphs" xml:space="preserve">Secretion of</text>
<circle cx="1369.4" cy="1306.0" r="9.6" fill="#2e6db8"/>
<text class="t" x="1390.6" y="1365.0" font-size="43" fill="#1c1c1c" textLength="234.1" lengthAdjust="spacingAndGlyphs" xml:space="preserve">metabolites</text>
<text class="t" x="1390.6" y="1409.8" font-size="43" fill="#1c1c1c" textLength="262.8" lengthAdjust="spacingAndGlyphs" xml:space="preserve">Regulation of</text>
<circle cx="1369.4" cy="1391.0" r="9.6" fill="#2e6db8"/>
<text class="t" x="1390.6" y="1453.8" font-size="43" fill="#1c1c1c" textLength="158.4" lengthAdjust="spacingAndGlyphs" xml:space="preserve">budding</text>
<text class="t" x="1390.6" y="1498.6" font-size="43" fill="#1c1c1c" textLength="351.0" lengthAdjust="spacingAndGlyphs" xml:space="preserve">Vesicle trafficking</text>
<circle cx="1369.4" cy="1484.8" r="9.6" fill="#2e6db8"/>
<text class="t" x="1782.4" y="1320.6" font-size="43" fill="#1c1c1c" textLength="287.3" lengthAdjust="spacingAndGlyphs" xml:space="preserve">Formation and</text>
<circle cx="1757.0" cy="1307.0" r="9.6" fill="#2e6db8"/>
<text class="t" x="1782.4" y="1365.0" font-size="43" fill="#1c1c1c" textLength="243.2" lengthAdjust="spacingAndGlyphs" xml:space="preserve">transport&#160; of</text>
<text class="t" x="1782.4" y="1409.8" font-size="43" fill="#1c1c1c" textLength="158.3" lengthAdjust="spacingAndGlyphs" xml:space="preserve">vesicles</text>
<text class="t" x="1782.4" y="1453.8" font-size="43" fill="#1c1c1c" textLength="200.8" lengthAdjust="spacingAndGlyphs" xml:space="preserve">Cell traffic</text>
<circle cx="1757.0" cy="1439.0" r="9.6" fill="#2e6db8"/>
<text class="t" x="2133.2" y="1314.0" font-size="43" fill="#1c1c1c" textLength="335.3" lengthAdjust="spacingAndGlyphs" xml:space="preserve">Nucleoplasmatic</text>
<circle cx="2115.3" cy="1302.7" r="9.6" fill="#2e6db8"/>
<text class="t" x="2133.2" y="1359.0" font-size="43" fill="#1c1c1c" textLength="331.4" lengthAdjust="spacingAndGlyphs" xml:space="preserve">and nuclear pore</text>
<text class="t" x="2133.2" y="1404.2" font-size="43" fill="#1c1c1c" textLength="180.2" lengthAdjust="spacingAndGlyphs" xml:space="preserve">transport</text>
<text class="t" x="2133.2" y="1449.0" font-size="43" fill="#1c1c1c" textLength="342.5" lengthAdjust="spacingAndGlyphs" xml:space="preserve">Nuclear envelope</text>
<circle cx="2115.3" cy="1439.0" r="9.6" fill="#2e6db8"/>
<text class="t" x="2133.2" y="1493.7" font-size="43" fill="#1c1c1c" textLength="188.4" lengthAdjust="spacingAndGlyphs" xml:space="preserve">assembly</text>
<text class="t" x="2534.8" y="1314.0" font-size="43" fill="#1c1c1c" textLength="261.8" lengthAdjust="spacingAndGlyphs" xml:space="preserve">Regulation of</text>
<circle cx="2514.2" cy="1302.7" r="9.6" fill="#2e6db8"/>
<text class="t" x="2534.8" y="1359.0" font-size="43" fill="#1c1c1c" textLength="261.8" lengthAdjust="spacingAndGlyphs" xml:space="preserve">mitochondria</text>
<text class="t" x="2534.8" y="1404.0" font-size="43" fill="#1c1c1c" textLength="243.9" lengthAdjust="spacingAndGlyphs" xml:space="preserve">integrity and</text>
<text class="t" x="2534.8" y="1449.0" font-size="43" fill="#1c1c1c" textLength="243.2" lengthAdjust="spacingAndGlyphs" xml:space="preserve">peroxisomal</text>
<text class="t" x="2534.8" y="1494.0" font-size="43" fill="#1c1c1c" textLength="190.0" lengthAdjust="spacingAndGlyphs" xml:space="preserve">dynamics</text>
<text class="t" x="2890.5" y="1315.9" font-size="43" fill="#1c1c1c" textLength="222.8" lengthAdjust="spacingAndGlyphs" xml:space="preserve">Conidiation</text>
<circle cx="2867.8" cy="1302.6" r="9.6" fill="#2e6db8"/>
<text class="t" x="2890.5" y="1361.0" font-size="43" fill="#1c1c1c" textLength="260.2" lengthAdjust="spacingAndGlyphs" xml:space="preserve">Development</text>
<circle cx="2867.8" cy="1349.2" r="9.6" fill="#2e6db8"/>
<text class="t" x="2890.5" y="1405.3" font-size="43" fill="#1c1c1c" textLength="207.5" lengthAdjust="spacingAndGlyphs" xml:space="preserve">Secondary</text>
<circle cx="2867.8" cy="1393.4" r="9.6" fill="#2e6db8"/>
<text class="t" x="2890.5" y="1450.0" font-size="43" fill="#1c1c1c" textLength="233.7" lengthAdjust="spacingAndGlyphs" xml:space="preserve">metabolism</text>
<text class="t" x="2890.5" y="1495.4" font-size="43" fill="#1c1c1c" textLength="314.7" lengthAdjust="spacingAndGlyphs" xml:space="preserve">Mycoparasitism</text>
<circle cx="2867.8" cy="1481.8" r="9.6" fill="#2e6db8"/>
<text class="t" x="2890.5" y="1540.7" font-size="43" fill="#1c1c1c" textLength="200.7" lengthAdjust="spacingAndGlyphs" xml:space="preserve">Biocontrol</text>
<circle cx="2867.8" cy="1527.0" r="9.6" fill="#2e6db8"/>
</svg></body></html>
